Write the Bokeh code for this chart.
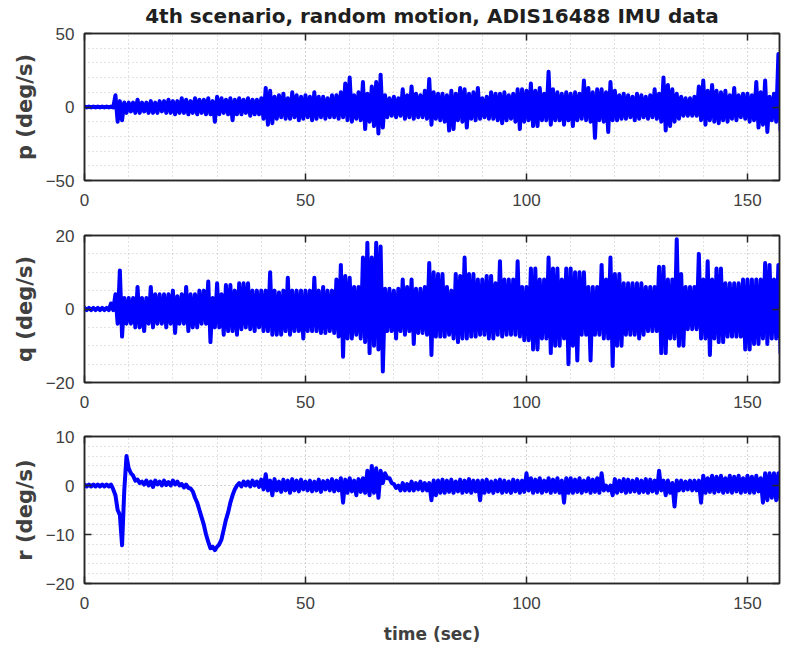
from bokeh.plotting import figure
from bokeh.models import FixedTicker, LinearAxis, Range1d, CustomLabelingPolicy
from bokeh.layouts import column
from bokeh.embed import file_html
from bokeh.resources import INLINE

# ---------------- data ----------------
time_s = list(range(158))  # seconds; each second carries two samples: at t and t+0.5

x_ticks = [0, 50, 100, 150]
x_minor = list(range(0, 160, 10))

# p (deg/s): sample at t (upper excursion) and t+0.5 (lower excursion)
p_hi = [0.3, 0.3, 0.3, 0.3, 0.3, 0.3, 0.3, 8, 4, 3,
        3, 3, 5, 3, 3, 4, 3, 4, 4, 5,
        4, 4, 6, 5, 4, 6, 5, 5, 6, 4,
        7, 6, 5, 6, 5, 6, 5, 6, 5, 5,
        6, 13, 11, 7, 8, 9, 6, 10, 8, 7,
        8, 7, 10, 7, 7, 6, 8, 8, 10, 16,
        20, 8, 10, 17, 9, 14, 17, 22, 8, 6,
        7, 6, 12, 8, 14, 9, 8, 11, 19, 10,
        9, 9, 8, 11, 9, 13, 12, 9, 10, 13,
        6, 7, 10, 9, 9, 10, 8, 9, 12, 12,
        11, 16, 11, 13, 9, 24, 12, 10, 9, 10,
        9, 10, 9, 18, 13, 10, 12, 12, 10, 17,
        11, 8, 9, 8, 7, 9, 8, 7, 8, 12,
        9, 20, 15, 12, 9, 7, 6, 6, 7, 14,
        18, 11, 15, 11, 10, 11, 8, 13, 8, 9,
        9, 8, 17, 10, 18, 7, 9, 36]
p_lo = [-0.3, -0.3, -0.3, -0.3, -0.3, -0.3, -0.3, -10, -9, -4,
        -3, -4, -4, -3, -4, -4, -4, -3, -4, -4,
        -5, -4, -4, -5, -4, -5, -4, -5, -5, -10,
        -5, -4, -5, -9, -5, -5, -4, -6, -5, -5,
        -8, -12, -11, -8, -7, -8, -8, -7, -9, -8,
        -7, -9, -8, -7, -8, -7, -7, -8, -7, -9,
        -10, -8, -9, -15, -10, -13, -18, -14, -7, -6,
        -7, -6, -8, -7, -8, -7, -7, -8, -12, -8,
        -9, -10, -16, -15, -9, -10, -14, -8, -9, -8,
        -7, -8, -8, -9, -11, -9, -8, -10, -15, -10,
        -9, -13, -13, -9, -9, -12, -9, -9, -12, -9,
        -13, -9, -8, -9, -10, -21, -9, -10, -17, -9,
        -9, -8, -8, -7, -9, -8, -7, -8, -7, -8,
        -10, -16, -13, -10, -8, -6, -6, -6, -6, -9,
        -12, -9, -10, -11, -9, -10, -8, -9, -7, -8,
        -10, -9, -14, -12, -17, -9, -10, -16]

# q (deg/s)
q_hi = [0.3, 0.3, 0.3, 0.3, 0.3, 0.3, 1.5, 4, 10.5, 3,
        3, 3, 6, 3, 3, 6, 4, 4, 4, 4,
        5, 3.5, 4, 6, 4, 4, 5, 5, 7.5, 3,
        7, 4, 6.5, 6.5, 5, 7, 7, 7, 5, 5,
        5, 5, 10, 5, 4.5, 5, 8.5, 5, 5, 5,
        5, 5, 8.5, 5, 6, 5, 5, 8, 12, 9,
        8.5, 6, 6, 14, 18, 14, 18, 17, 5.5, 5.5,
        5, 5.5, 8, 6, 8, 5.5, 5.5, 6, 12.5, 10,
        9.5, 9.5, 6, 5, 9.5, 9, 14, 9.5, 9.5, 8,
        8, 9, 9, 7, 13, 8, 8, 8, 13, 6,
        6, 11, 11, 8, 8, 14, 11, 11, 8, 11,
        11, 10, 10, 10, 6, 6, 6, 12, 8, 14,
        9.5, 9.5, 7, 7, 7, 7, 7, 6, 6, 6,
        11.5, 11.5, 8, 8, 19, 9.5, 6, 6, 6, 15,
        8, 13, 8, 11, 11, 7, 7, 7, 7, 8,
        8, 8, 8, 8, 12.5, 12, 8, 12]
q_lo = [-0.3, -0.3, -0.3, -0.3, -0.3, -0.3, -0.3, -4, -7.5, -4,
        -4, -5, -5, -6, -4, -5, -4, -4, -5, -4,
        -6.5, -4, -4, -6, -5, -5, -4, -4, -9, -5,
        -5, -7, -6, -6, -7, -5.5, -5, -5.5, -6, -5,
        -6, -6, -7, -7, -7, -6, -7, -6, -6, -8,
        -6, -6, -6, -6.5, -6.5, -6, -6.5, -7.5, -13, -8,
        -8, -7, -8, -9, -12, -10, -11, -17, -6, -6,
        -8, -6, -7, -6, -9.5, -6.5, -6.5, -7, -12.5, -7.5,
        -7.5, -7.5, -7, -8, -9, -8, -8, -7.5, -7.5, -7,
        -7, -8, -8, -7, -7.5, -7, -7, -7, -7.5, -8.5,
        -8.5, -11, -11, -8, -8, -12, -10, -10, -8, -15,
        -10, -14, -7, -7, -14, -7, -7, -8, -8, -15.5,
        -10, -10, -7, -7, -7, -8, -7, -6, -6, -6,
        -12, -12, -8, -8, -10, -10, -5.5, -5.5, -5.5, -8,
        -8, -12.5, -8, -9, -9, -7.5, -7.5, -7.5, -7.5, -11,
        -11, -9.5, -9.5, -8, -9.5, -8, -8, -12]

# r (deg/s): sample at t and at t+0.5
r_k = [0.2, 0.2, 0.2, 0.2, 0.2, 0.2, 0.2, -2, -6, -1,
       3.5, 2, 1.2, 0.8, 1, 0.8, 1, 0.8, 1, 0.7,
       1, 0.8, 0.3, 0.2, -0.6, -2.5, -5, -8, -11.5, -12.5,
       -12.5, -11, -7, -3.5, -0.8, 0.5, 0.8, 0.8, 1, 0.8,
       1.2, 2.3, 1, 1.3, 0.8, 1.2, 1, 1.3, 1, 1.2,
       0.8, 1, 0.8, 1.2, 0.9, 1, 1.3, 1, 1.5, 1.2,
       1.5, 1, 1.3, 1.5, 3, 4, 3.5, 3, 2.5, 1.5,
       0.3, 0, 0.5, 0.3, 0.8, 0.5, 0.8, 0.5, 0.5, 1,
       1, 1.2, 1, 1.2, 0.8, 1.2, 1, 1.3, 1, 1,
       1, 1.2, 0.8, 1, 1.2, 1, 0.8, 1.2, 1, 1,
       2.5, 1.5, 1.2, 1.5, 1, 1.5, 1.2, 1.5, 1, 1.5,
       1.5, 1.2, 1.5, 1, 1.5, 1.2, 1.5, 2.5, 0, 0,
       1.3, 1, 1.3, 1.2, 1, 1.3, 1, 1.3, 1.2, 1,
       3, 1, 1, 0.5, 1, 1, 0.8, 1, 1, 1,
       2, 1.5, 2, 1.8, 2, 1.5, 2, 1.8, 2, 1.5,
       2, 1.8, 2, 1.5, 2.5, 2.5, 2.5, 2.5]
r_h = [-0.2, -0.2, -0.2, -0.2, -0.2, -0.2, -0.8, -5, -12.2, 6,
       2.5, 1, 0.5, 0.2, 0, -0.3, 0.2, 0, 0.1, 0,
       0.2, 0, -0.4, -0.5, -1.2, -3.5, -6.5, -10, -12.8, -13.2,
       -12, -9, -5.5, -2, 0, -0.2, 0, -0.2, 0, -0.3,
       -0.8, -1, -2, -1, -1.3, -1, -1.5, -1, -1.2, -0.8,
       -1, -1.2, -1, -1.3, -0.8, -1, -1.2, -1, -3.5, -1.5,
       -1.2, -2, -1.3, -1.5, -2, -1.5, -2.5, 0.5, 1.5, 0.5,
       -0.5, -1, -1, -1, -1, -0.8, -1, -1, -3, -2,
       -1.5, -1.5, -1.3, -1.5, -1.2, -1.5, -1.3, -1.5, -1.2, -3,
       -1.5, -1.3, -1.5, -1.2, -1.5, -1.3, -1.5, -1.2, -1.5, -1.3,
       -1, -1.5, -1.3, -1.5, -1.2, -1.5, -1.3, -1.5, -3.5, -1.5,
       -1.5, -1.3, -1.5, -1.2, -1.5, -1.3, -1.5, -1, -1, -2,
       -1.5, -1.2, -1.5, -1.3, -1.2, -1.5, -1.3, -1.5, -1.2, -1.5,
       -1, -2, -1.5, -4.3, -1, -1, -0.8, -1, -1, -3.5,
       -1.5, -1.3, -1.5, -1.2, -1.5, -1.3, -1.5, -1.2, -1.5, -1.3,
       -1.5, -1.5, -1.2, -3.5, -3, -2.5, -3, -3]

p_yticks, p_yminor, p_yrange = [-50, 0, 50], list(range(-50, 51, 10)), (-50, 50)
q_yticks, q_yminor, q_yrange = [-20, 0, 20], list(range(-20, 21, 5)), (-20, 20)
r_yticks, r_yminor, r_yrange = [-20, -10, 0, 10], list(range(-20, 11, 2)), (-20, 10)

title_text = "4th scenario, random motion, ADIS16488 IMU data"
x_label = "time (sec)"

# ---------------- styling ----------------
AX = "#262626"
LBL = "#404040"
GRID = "#c4c4c4"
TICK_FONT = "Liberation Sans"
BOLD_FONT = "DejaVu Sans"

HIDE_ALL = "for (const i of Array.from(indices)) { indices.unset(i) }\nreturn indices"


def interleave(a, b):
    xs, ys = [], []
    for t, u, v in zip(time_s, a, b):
        xs += [t, t + 0.5]
        ys += [u, v]
    return xs, ys


def style_axis(ax, show_labels, standoff=9):
    ax.axis_line_color = AX
    ax.axis_line_width = 1.5
    ax.major_tick_line_color = AX
    ax.major_tick_line_width = 1.5
    ax.major_tick_in = 7
    ax.major_tick_out = 0
    ax.minor_tick_line_color = None
    ax.major_label_text_font = TICK_FONT
    ax.major_label_text_color = LBL
    if show_labels:
        ax.major_label_text_font_size = "17px"
        ax.major_label_standoff = standoff
    else:
        ax.major_label_text_font_size = "0px"
        ax.major_label_standoff = 0
        ax.major_label_policy = CustomLabelingPolicy(code=HIDE_ALL)


def panel(ylabel, yrange, yticks, yminor, xs, ys, top, bottom, title=None, xlabel=None):
    p = figure(frame_width=695, frame_height=147,
               x_range=Range1d(0, 157.25), y_range=Range1d(*yrange),
               output_backend="svg", toolbar_location=None,
               min_border_left=84, min_border_right=4,
               min_border_top=top, min_border_bottom=bottom,
               background_fill_color="white", border_fill_color="white")
    p.outline_line_color = AX
    p.outline_line_width = 1.5

    xt = FixedTicker(ticks=x_ticks, minor_ticks=x_minor)
    yt = FixedTicker(ticks=yticks, minor_ticks=yminor)

    xb = p.xaxis[0]
    yl = p.yaxis[0]
    xb.ticker = xt
    yl.ticker = yt
    style_axis(xb, True, 9)
    style_axis(yl, True, 6)
    yl.axis_label = ylabel
    yl.axis_label_text_font = BOLD_FONT
    yl.axis_label_text_font_style = "bold"
    yl.axis_label_text_font_size = "21px"
    yl.axis_label_text_color = LBL
    yl.axis_label_standoff = 6
    if xlabel:
        xb.axis_label = xlabel
        xb.axis_label_text_font = BOLD_FONT
        xb.axis_label_text_font_style = "bold"
        xb.axis_label_text_font_size = "17px"
        xb.axis_label_text_color = LBL
        xb.axis_label_standoff = 12

    xtop = LinearAxis(ticker=xt)
    style_axis(xtop, False)
    p.add_layout(xtop, "above")
    yright = LinearAxis(ticker=yt)
    style_axis(yright, False)
    p.add_layout(yright, "right")

    for g in (p.xgrid[0], p.ygrid[0]):
        g.grid_line_color = GRID
        g.grid_line_dash = "1 3"
        g.grid_line_width = 1
        g.minor_grid_line_color = GRID
        g.minor_grid_line_dash = "1 3"
        g.minor_grid_line_width = 1
    p.xgrid[0].ticker = xt
    p.ygrid[0].ticker = yt

    if title:
        p.title.text = title
        p.title.align = "center"
        p.title.text_font = BOLD_FONT
        p.title.text_font_style = "bold"
        p.title.text_font_size = "20px"
        p.title.text_color = "#1f1f1f"
        p.title.standoff = 3

    p.line(xs, ys, line_color="#0000ff", line_width=4,
           line_join="round", line_cap="round")
    return p


px, py = interleave(p_hi, p_lo)
qx, qy = interleave(q_hi, q_lo)
rx, ry = interleave(r_k, r_h)

f1 = panel("p (deg/s)", p_yrange, p_yticks, p_yminor, px, py, 26, 29, title=title_text)
f2 = panel("q (deg/s)", q_yrange, q_yticks, q_yminor, qx, qy, 26, 29)
f3 = panel("r (deg/s)", r_yrange, r_yticks, r_yminor, rx, ry, 25, 56, xlabel=x_label)

layout = column(f1, f2, f3, spacing=0)
open("out.html", "w").write(file_html(layout, INLINE))
